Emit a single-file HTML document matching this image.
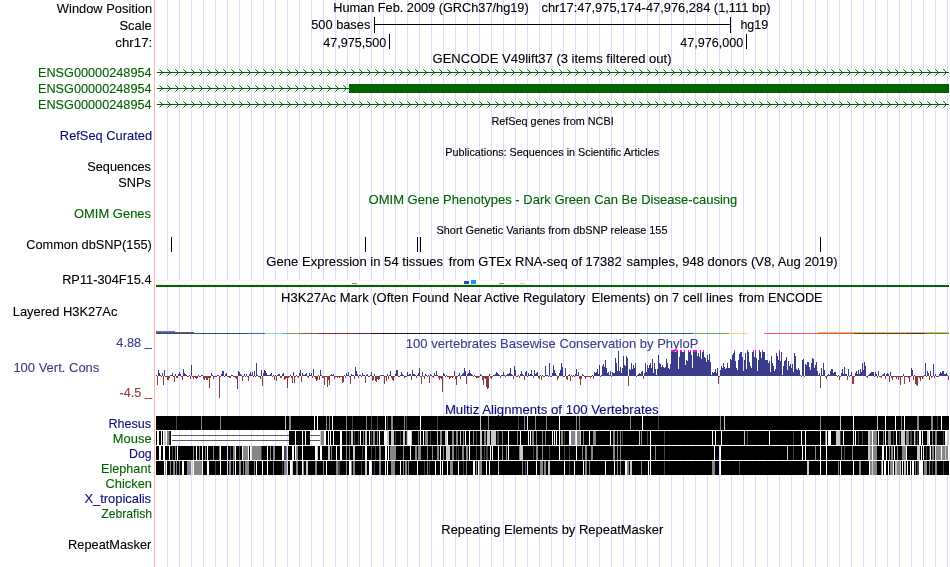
<!DOCTYPE html>
<html><head><meta charset="utf-8"><title>UCSC Genome Browser</title>
<style>html,body{margin:0;padding:0;background:#fff}body{width:950px;height:567px;overflow:hidden;font-family:"Liberation Sans", sans-serif}svg{display:block}text{stroke-width:0.12px;paint-order:stroke fill}</style>
</head><body>
<svg width="950" height="567" viewBox="0 0 950 567" font-family='"Liberation Sans", sans-serif'><g shape-rendering="crispEdges"><rect x="154" y="0" width="1" height="567" fill="#ffb4b4"/><rect x="167" y="0" width="1" height="567" fill="#dcdcff"/><rect x="179" y="0" width="1" height="567" fill="#dcdcff"/><rect x="191" y="0" width="1" height="567" fill="#dcdcff"/><rect x="203" y="0" width="1" height="567" fill="#dcdcff"/><rect x="215" y="0" width="1" height="567" fill="#dcdcff"/><rect x="227" y="0" width="1" height="567" fill="#dcdcff"/><rect x="239" y="0" width="1" height="567" fill="#dcdcff"/><rect x="251" y="0" width="1" height="567" fill="#dcdcff"/><rect x="263" y="0" width="1" height="567" fill="#dcdcff"/><rect x="275" y="0" width="1" height="567" fill="#dcdcff"/><rect x="287" y="0" width="1" height="567" fill="#dcdcff"/><rect x="299" y="0" width="1" height="567" fill="#dcdcff"/><rect x="311" y="0" width="1" height="567" fill="#dcdcff"/><rect x="323" y="0" width="1" height="567" fill="#dcdcff"/><rect x="335" y="0" width="1" height="567" fill="#dcdcff"/><rect x="347" y="0" width="1" height="567" fill="#dcdcff"/><rect x="359" y="0" width="1" height="567" fill="#dcdcff"/><rect x="371" y="0" width="1" height="567" fill="#dcdcff"/><rect x="383" y="0" width="1" height="567" fill="#dcdcff"/><rect x="395" y="0" width="1" height="567" fill="#dcdcff"/><rect x="407" y="0" width="1" height="567" fill="#dcdcff"/><rect x="419" y="0" width="1" height="567" fill="#dcdcff"/><rect x="431" y="0" width="1" height="567" fill="#dcdcff"/><rect x="443" y="0" width="1" height="567" fill="#dcdcff"/><rect x="455" y="0" width="1" height="567" fill="#dcdcff"/><rect x="467" y="0" width="1" height="567" fill="#dcdcff"/><rect x="479" y="0" width="1" height="567" fill="#dcdcff"/><rect x="491" y="0" width="1" height="567" fill="#dcdcff"/><rect x="503" y="0" width="1" height="567" fill="#dcdcff"/><rect x="515" y="0" width="1" height="567" fill="#dcdcff"/><rect x="527" y="0" width="1" height="567" fill="#dcdcff"/><rect x="539" y="0" width="1" height="567" fill="#dcdcff"/><rect x="551" y="0" width="1" height="567" fill="#dcdcff"/><rect x="563" y="0" width="1" height="567" fill="#dcdcff"/><rect x="575" y="0" width="1" height="567" fill="#dcdcff"/><rect x="587" y="0" width="1" height="567" fill="#dcdcff"/><rect x="599" y="0" width="1" height="567" fill="#dcdcff"/><rect x="611" y="0" width="1" height="567" fill="#dcdcff"/><rect x="623" y="0" width="1" height="567" fill="#dcdcff"/><rect x="635" y="0" width="1" height="567" fill="#dcdcff"/><rect x="647" y="0" width="1" height="567" fill="#dcdcff"/><rect x="659" y="0" width="1" height="567" fill="#dcdcff"/><rect x="671" y="0" width="1" height="567" fill="#dcdcff"/><rect x="683" y="0" width="1" height="567" fill="#dcdcff"/><rect x="695" y="0" width="1" height="567" fill="#dcdcff"/><rect x="707" y="0" width="1" height="567" fill="#dcdcff"/><rect x="719" y="0" width="1" height="567" fill="#dcdcff"/><rect x="731" y="0" width="1" height="567" fill="#dcdcff"/><rect x="743" y="0" width="1" height="567" fill="#dcdcff"/><rect x="755" y="0" width="1" height="567" fill="#dcdcff"/><rect x="767" y="0" width="1" height="567" fill="#dcdcff"/><rect x="779" y="0" width="1" height="567" fill="#dcdcff"/><rect x="791" y="0" width="1" height="567" fill="#dcdcff"/><rect x="803" y="0" width="1" height="567" fill="#dcdcff"/><rect x="815" y="0" width="1" height="567" fill="#dcdcff"/><rect x="827" y="0" width="1" height="567" fill="#dcdcff"/><rect x="839" y="0" width="1" height="567" fill="#dcdcff"/><rect x="851" y="0" width="1" height="567" fill="#dcdcff"/><rect x="863" y="0" width="1" height="567" fill="#dcdcff"/><rect x="875" y="0" width="1" height="567" fill="#dcdcff"/><rect x="887" y="0" width="1" height="567" fill="#dcdcff"/><rect x="899" y="0" width="1" height="567" fill="#dcdcff"/><rect x="911" y="0" width="1" height="567" fill="#dcdcff"/><rect x="923" y="0" width="1" height="567" fill="#dcdcff"/><rect x="935" y="0" width="1" height="567" fill="#dcdcff"/><rect x="947" y="0" width="1" height="567" fill="#dcdcff"/></g>
<g shape-rendering="crispEdges"><rect x="374" y="24" width="357" height="1" fill="#000"/><rect x="374" y="17" width="1" height="16" fill="#000"/><rect x="730" y="17" width="1" height="16" fill="#000"/><rect x="389" y="34" width="1" height="15" fill="#000"/><rect x="746" y="34" width="1" height="15" fill="#000"/><rect x="157" y="72" width="792" height="1" fill="#006400"/><rect x="157" y="88" width="792" height="1" fill="#006400"/><rect x="157" y="104" width="792" height="1" fill="#006400"/><rect x="349" y="84" width="600" height="9" fill="#006400"/><rect x="171" y="237" width="1" height="15" fill="#000"/><rect x="365" y="237" width="1" height="15" fill="#000"/><rect x="417" y="237" width="1" height="15" fill="#000"/><rect x="420" y="237" width="1" height="15" fill="#000"/><rect x="820" y="237" width="1" height="15" fill="#000"/><rect x="156" y="280" width="378" height="1" fill="#f3f3f3"/><rect x="156" y="281" width="378" height="3" fill="#ffffff"/><rect x="156" y="284" width="378" height="1" fill="#f1e9e9"/><rect x="156" y="285" width="793" height="2" fill="#006400"/><rect x="464" y="281" width="5" height="3" fill="#2a4ccc"/><rect x="471" y="280" width="5" height="4" fill="#1e90ff"/><rect x="352" y="283" width="5" height="1" fill="#b08050"/><rect x="499" y="283" width="5" height="1" fill="#888"/><rect x="520" y="283" width="5" height="1" fill="#f5c0b0"/><rect x="156" y="331" width="19" height="1" fill="#6a6af0"/><rect x="156" y="332" width="38" height="1" fill="#6b5a6b"/><rect x="156" y="333" width="91" height="1" fill="#2f5555"/><rect x="247" y="333" width="18" height="1" fill="#3a6ad0"/><rect x="265" y="333" width="18" height="1" fill="#70e8c8"/><rect x="283" y="333" width="17" height="1" fill="#6aaa44"/><rect x="300" y="333" width="18" height="1" fill="#8a6030"/><rect x="318" y="333" width="35" height="1" fill="#8a2a2a"/><rect x="353" y="333" width="19" height="1" fill="#6a2040"/><rect x="372" y="333" width="48" height="1" fill="#301030"/><rect x="420" y="333" width="220" height="1" fill="#1c1c28"/><rect x="640" y="333" width="53" height="1" fill="#2a5a6a"/><rect x="693" y="333" width="36" height="1" fill="#5cb850"/><rect x="729" y="333" width="18" height="1" fill="#ffd070"/><rect x="764" y="333" width="54" height="1" fill="#ff5a5a"/><rect x="818" y="333" width="36" height="1" fill="#e06050"/><rect x="854" y="333" width="53" height="1" fill="#4a4a30"/><rect x="907" y="333" width="18" height="1" fill="#2a3a4a"/><rect x="925" y="333" width="24" height="1" fill="#3a9a3a"/><rect x="818" y="332" width="131" height="1" fill="#ffb050"/><path d="M156 375h1v1h-1zM158 370h1v6h-1zM159 373h1v3h-1zM160 375h1v1h-1zM162 373h1v3h-1zM164 370h1v6h-1zM170 375h1v1h-1zM171 375h1v1h-1zM172 373h1v3h-1zM175 374h1v2h-1zM178 374h1v2h-1zM179 372h1v4h-1zM180 374h1v2h-1zM183 369h1v7h-1zM184 373h1v3h-1zM185 374h1v2h-1zM186 375h1v1h-1zM189 375h1v1h-1zM191 365h1v11h-1zM198 375h1v1h-1zM201 375h1v1h-1zM202 375h1v1h-1zM211 373h1v3h-1zM212 375h1v1h-1zM217 375h1v1h-1zM218 375h1v1h-1zM221 374h1v2h-1zM222 371h1v5h-1zM223 371h1v5h-1zM225 374h1v2h-1zM226 373h1v3h-1zM231 375h1v1h-1zM232 375h1v1h-1zM238 371h1v5h-1zM239 372h1v4h-1zM240 374h1v2h-1zM241 375h1v1h-1zM244 374h1v2h-1zM246 374h1v2h-1zM249 374h1v2h-1zM250 372h1v4h-1zM251 375h1v1h-1zM252 372h1v4h-1zM254 371h1v5h-1zM256 363h1v13h-1zM257 375h1v1h-1zM261 370h1v6h-1zM263 373h1v3h-1zM264 370h1v6h-1zM265 371h1v5h-1zM266 373h1v3h-1zM267 375h1v1h-1zM268 375h1v1h-1zM269 375h1v1h-1zM270 374h1v2h-1zM271 373h1v3h-1zM273 375h1v1h-1zM275 375h1v1h-1zM277 375h1v1h-1zM278 374h1v2h-1zM279 374h1v2h-1zM282 374h1v2h-1zM283 373h1v3h-1zM290 375h1v1h-1zM293 372h1v4h-1zM296 375h1v1h-1zM299 373h1v3h-1zM300 370h1v6h-1zM302 373h1v3h-1zM303 375h1v1h-1zM304 375h1v1h-1zM305 374h1v2h-1zM306 373h1v3h-1zM309 373h1v3h-1zM310 375h1v1h-1zM311 373h1v3h-1zM313 369h1v7h-1zM318 375h1v1h-1zM320 370h1v6h-1zM321 375h1v1h-1zM330 375h1v1h-1zM331 374h1v2h-1zM332 375h1v1h-1zM333 374h1v2h-1zM344 375h1v1h-1zM346 373h1v3h-1zM347 375h1v1h-1zM348 372h1v4h-1zM351 374h1v2h-1zM352 375h1v1h-1zM353 375h1v1h-1zM355 367h1v9h-1zM356 371h1v5h-1zM357 374h1v2h-1zM359 375h1v1h-1zM360 375h1v1h-1zM362 373h1v3h-1zM363 375h1v1h-1zM364 375h1v1h-1zM366 375h1v1h-1zM367 374h1v2h-1zM370 375h1v1h-1zM371 372h1v4h-1zM374 374h1v2h-1zM380 375h1v1h-1zM381 375h1v1h-1zM382 375h1v1h-1zM383 375h1v1h-1zM387 374h1v2h-1zM389 375h1v1h-1zM390 371h1v5h-1zM395 374h1v2h-1zM396 370h1v6h-1zM397 370h1v6h-1zM400 375h1v1h-1zM401 372h1v4h-1zM402 374h1v2h-1zM403 375h1v1h-1zM407 372h1v4h-1zM408 375h1v1h-1zM409 374h1v2h-1zM410 374h1v2h-1zM412 370h1v6h-1zM413 374h1v2h-1zM414 374h1v2h-1zM415 375h1v1h-1zM417 375h1v1h-1zM418 373h1v3h-1zM419 368h1v8h-1zM422 372h1v4h-1zM425 374h1v2h-1zM426 375h1v1h-1zM428 375h1v1h-1zM430 374h1v2h-1zM431 375h1v1h-1zM434 373h1v3h-1zM435 375h1v1h-1zM436 371h1v5h-1zM437 375h1v1h-1zM443 373h1v3h-1zM444 374h1v2h-1zM446 375h1v1h-1zM454 371h1v5h-1zM458 375h1v1h-1zM459 373h1v3h-1zM461 375h1v1h-1zM462 374h1v2h-1zM463 373h1v3h-1zM464 368h1v8h-1zM465 371h1v5h-1zM467 374h1v2h-1zM468 373h1v3h-1zM469 370h1v6h-1zM470 373h1v3h-1zM471 374h1v2h-1zM472 375h1v1h-1zM474 375h1v1h-1zM480 374h1v2h-1zM481 375h1v1h-1zM489 374h1v2h-1zM493 375h1v1h-1zM494 375h1v1h-1zM495 374h1v2h-1zM496 372h1v4h-1zM497 373h1v3h-1zM498 374h1v2h-1zM499 375h1v1h-1zM501 375h1v1h-1zM502 375h1v1h-1zM503 372h1v4h-1zM504 375h1v1h-1zM506 375h1v1h-1zM507 374h1v2h-1zM508 374h1v2h-1zM509 373h1v3h-1zM510 368h1v8h-1zM511 374h1v2h-1zM512 375h1v1h-1zM514 366h1v10h-1zM515 370h1v6h-1zM518 375h1v1h-1zM520 374h1v2h-1zM521 371h1v5h-1zM522 374h1v2h-1zM523 375h1v1h-1zM525 372h1v4h-1zM526 371h1v5h-1zM528 373h1v3h-1zM529 375h1v1h-1zM530 374h1v2h-1zM531 370h1v6h-1zM532 375h1v1h-1zM534 370h1v6h-1zM535 374h1v2h-1zM536 373h1v3h-1zM537 372h1v4h-1zM540 375h1v1h-1zM542 375h1v1h-1zM545 366h1v10h-1zM546 375h1v1h-1zM547 375h1v1h-1zM549 363h1v13h-1zM552 373h1v3h-1zM553 365h1v11h-1zM554 370h1v6h-1zM555 373h1v3h-1zM556 375h1v1h-1zM559 373h1v3h-1zM560 370h1v6h-1zM561 363h1v13h-1zM562 367h1v9h-1zM565 368h1v8h-1zM568 375h1v1h-1zM569 374h1v2h-1zM571 375h1v1h-1zM573 375h1v1h-1zM575 374h1v2h-1zM576 369h1v7h-1zM577 375h1v1h-1zM578 372h1v4h-1zM582 374h1v2h-1zM583 375h1v1h-1zM592 375h1v1h-1zM594 372h1v4h-1zM595 373h1v3h-1zM596 372h1v4h-1zM597 369h1v7h-1zM598 374h1v2h-1zM599 365h1v11h-1zM601 375h1v1h-1zM602 366h1v10h-1zM603 364h1v12h-1zM604 367h1v9h-1zM605 360h1v16h-1zM606 368h1v8h-1zM607 373h1v3h-1zM608 372h1v4h-1zM609 375h1v1h-1zM610 371h1v5h-1zM612 372h1v4h-1zM613 373h1v3h-1zM614 373h1v3h-1zM615 358h1v18h-1zM616 363h1v13h-1zM617 371h1v5h-1zM618 351h1v25h-1zM619 371h1v5h-1zM620 367h1v9h-1zM621 373h1v3h-1zM622 368h1v8h-1zM623 356h1v20h-1zM624 365h1v11h-1zM625 366h1v10h-1zM626 356h1v20h-1zM627 358h1v18h-1zM629 369h1v7h-1zM630 370h1v6h-1zM631 363h1v13h-1zM632 369h1v7h-1zM633 365h1v11h-1zM634 368h1v8h-1zM635 363h1v13h-1zM637 375h1v1h-1zM638 374h1v2h-1zM639 373h1v3h-1zM640 374h1v2h-1zM641 372h1v4h-1zM642 371h1v5h-1zM644 373h1v3h-1zM645 363h1v13h-1zM646 372h1v4h-1zM647 365h1v11h-1zM648 368h1v8h-1zM649 365h1v11h-1zM650 363h1v13h-1zM651 368h1v8h-1zM652 359h1v17h-1zM653 373h1v3h-1zM654 363h1v13h-1zM655 369h1v7h-1zM656 375h1v1h-1zM657 369h1v7h-1zM658 355h1v21h-1zM659 363h1v13h-1zM660 364h1v12h-1zM661 367h1v9h-1zM662 365h1v11h-1zM663 367h1v9h-1zM664 368h1v8h-1zM665 367h1v9h-1zM666 359h1v17h-1zM667 363h1v13h-1zM668 368h1v8h-1zM669 369h1v7h-1zM670 364h1v12h-1zM671 352h1v24h-1zM672 352h1v24h-1zM673 352h1v24h-1zM674 352h1v24h-1zM675 352h1v24h-1zM676 352h1v24h-1zM677 352h1v24h-1zM678 369h1v7h-1zM679 357h1v19h-1zM680 352h1v24h-1zM681 352h1v24h-1zM682 352h1v24h-1zM683 352h1v24h-1zM684 352h1v24h-1zM685 365h1v11h-1zM686 360h1v16h-1zM687 361h1v15h-1zM688 352h1v24h-1zM689 352h1v24h-1zM690 352h1v24h-1zM691 355h1v21h-1zM692 368h1v8h-1zM693 352h1v24h-1zM694 352h1v24h-1zM695 352h1v24h-1zM696 352h1v24h-1zM697 356h1v20h-1zM698 353h1v23h-1zM699 357h1v19h-1zM700 352h1v24h-1zM701 359h1v17h-1zM702 352h1v24h-1zM703 352h1v24h-1zM704 357h1v19h-1zM705 358h1v18h-1zM706 362h1v14h-1zM707 355h1v21h-1zM708 360h1v16h-1zM709 354h1v22h-1zM710 362h1v14h-1zM711 375h1v1h-1zM712 372h1v4h-1zM713 373h1v3h-1zM714 372h1v4h-1zM715 369h1v7h-1zM716 373h1v3h-1zM717 368h1v8h-1zM720 370h1v6h-1zM721 366h1v10h-1zM722 368h1v8h-1zM723 363h1v13h-1zM724 367h1v9h-1zM725 369h1v7h-1zM726 368h1v8h-1zM727 363h1v13h-1zM728 368h1v8h-1zM729 368h1v8h-1zM730 359h1v17h-1zM731 360h1v16h-1zM732 355h1v21h-1zM733 353h1v23h-1zM734 352h1v24h-1zM735 361h1v15h-1zM736 368h1v8h-1zM737 370h1v6h-1zM738 360h1v16h-1zM739 354h1v22h-1zM740 352h1v24h-1zM741 352h1v24h-1zM742 357h1v19h-1zM743 371h1v5h-1zM744 360h1v16h-1zM745 353h1v23h-1zM746 369h1v7h-1zM747 350h1v26h-1zM748 352h1v24h-1zM749 362h1v14h-1zM750 366h1v10h-1zM751 368h1v8h-1zM752 352h1v24h-1zM753 352h1v24h-1zM754 357h1v19h-1zM755 352h1v24h-1zM756 358h1v18h-1zM757 371h1v5h-1zM758 360h1v16h-1zM759 350h1v26h-1zM760 352h1v24h-1zM761 358h1v18h-1zM762 352h1v24h-1zM763 352h1v24h-1zM764 352h1v24h-1zM765 360h1v16h-1zM766 360h1v16h-1zM767 360h1v16h-1zM768 363h1v13h-1zM769 361h1v15h-1zM770 372h1v4h-1zM771 356h1v20h-1zM772 363h1v13h-1zM773 366h1v10h-1zM774 371h1v5h-1zM775 369h1v7h-1zM776 353h1v23h-1zM777 356h1v20h-1zM778 360h1v16h-1zM779 352h1v24h-1zM780 361h1v15h-1zM781 352h1v24h-1zM782 375h1v1h-1zM783 366h1v10h-1zM784 361h1v15h-1zM785 360h1v16h-1zM786 357h1v19h-1zM787 370h1v6h-1zM788 361h1v15h-1zM789 366h1v10h-1zM790 364h1v12h-1zM791 368h1v8h-1zM792 364h1v12h-1zM793 372h1v4h-1zM794 353h1v23h-1zM795 356h1v20h-1zM796 369h1v7h-1zM797 370h1v6h-1zM798 368h1v8h-1zM799 370h1v6h-1zM800 375h1v1h-1zM802 360h1v16h-1zM803 359h1v17h-1zM805 364h1v12h-1zM806 365h1v11h-1zM807 362h1v14h-1zM808 362h1v14h-1zM809 367h1v9h-1zM810 370h1v6h-1zM811 363h1v13h-1zM812 358h1v18h-1zM813 359h1v17h-1zM814 368h1v8h-1zM815 365h1v11h-1zM816 362h1v14h-1zM817 371h1v5h-1zM818 375h1v1h-1zM819 373h1v3h-1zM821 368h1v8h-1zM822 375h1v1h-1zM823 363h1v13h-1zM824 370h1v6h-1zM827 375h1v1h-1zM828 374h1v2h-1zM829 375h1v1h-1zM830 371h1v5h-1zM831 369h1v7h-1zM832 369h1v7h-1zM833 373h1v3h-1zM834 372h1v4h-1zM835 372h1v4h-1zM836 375h1v1h-1zM838 375h1v1h-1zM841 373h1v3h-1zM842 369h1v7h-1zM843 374h1v2h-1zM844 367h1v9h-1zM845 374h1v2h-1zM846 374h1v2h-1zM848 369h1v7h-1zM850 375h1v1h-1zM851 372h1v4h-1zM855 373h1v3h-1zM856 371h1v5h-1zM857 374h1v2h-1zM858 370h1v6h-1zM859 374h1v2h-1zM860 369h1v7h-1zM861 372h1v4h-1zM862 363h1v13h-1zM863 370h1v6h-1zM864 362h1v14h-1zM865 366h1v10h-1zM868 375h1v1h-1zM869 374h1v2h-1zM870 373h1v3h-1zM871 372h1v4h-1zM872 372h1v4h-1zM873 372h1v4h-1zM875 372h1v4h-1zM876 374h1v2h-1zM878 371h1v5h-1zM882 375h1v1h-1zM883 374h1v2h-1zM884 373h1v3h-1zM886 374h1v2h-1zM887 373h1v3h-1zM888 374h1v2h-1zM890 372h1v4h-1zM903 374h1v2h-1zM911 368h1v8h-1zM912 370h1v6h-1zM914 375h1v1h-1zM924 375h1v1h-1zM925 363h1v13h-1zM927 371h1v5h-1zM928 373h1v3h-1zM930 371h1v5h-1zM933 364h1v12h-1zM935 374h1v2h-1zM939 374h1v2h-1zM940 372h1v4h-1zM941 373h1v3h-1zM942 371h1v5h-1zM943 371h1v5h-1zM944 374h1v2h-1zM945 374h1v2h-1zM946 373h1v3h-1zM947 375h1v1h-1z" fill="#3c3c8c"/><path d="M157 376h1v9h-1zM161 376h1v1h-1zM163 376h1v9h-1zM165 376h1v1h-1zM166 376h1v1h-1zM167 376h1v4h-1zM168 376h1v4h-1zM169 376h1v2h-1zM173 376h1v1h-1zM174 376h1v6h-1zM176 376h1v2h-1zM177 376h1v2h-1zM181 376h1v1h-1zM182 376h1v4h-1zM187 376h1v1h-1zM188 376h1v1h-1zM190 376h1v3h-1zM192 376h1v1h-1zM193 376h1v3h-1zM194 376h1v1h-1zM195 376h1v2h-1zM196 376h1v3h-1zM197 376h1v2h-1zM199 376h1v1h-1zM200 376h1v1h-1zM203 376h1v3h-1zM204 376h1v4h-1zM205 376h1v2h-1zM206 376h1v4h-1zM207 376h1v4h-1zM208 376h1v2h-1zM209 376h1v12h-1zM210 376h1v2h-1zM213 376h1v3h-1zM214 376h1v1h-1zM215 376h1v1h-1zM216 376h1v1h-1zM219 376h1v22h-1zM220 376h1v1h-1zM224 376h1v1h-1zM227 376h1v1h-1zM228 376h1v1h-1zM229 376h1v2h-1zM230 376h1v2h-1zM233 376h1v1h-1zM234 376h1v1h-1zM235 376h1v2h-1zM236 376h1v3h-1zM237 376h1v13h-1zM242 376h1v5h-1zM243 376h1v1h-1zM245 376h1v1h-1zM247 376h1v1h-1zM248 376h1v5h-1zM253 376h1v1h-1zM255 376h1v1h-1zM258 376h1v1h-1zM259 376h1v1h-1zM260 376h1v3h-1zM262 376h1v10h-1zM272 376h1v1h-1zM274 376h1v4h-1zM276 376h1v5h-1zM280 376h1v2h-1zM281 376h1v2h-1zM284 376h1v4h-1zM285 376h1v3h-1zM286 376h1v2h-1zM287 376h1v12h-1zM288 376h1v2h-1zM289 376h1v1h-1zM291 376h1v2h-1zM292 376h1v7h-1zM294 376h1v7h-1zM295 376h1v1h-1zM297 376h1v1h-1zM298 376h1v2h-1zM301 376h1v6h-1zM307 376h1v1h-1zM308 376h1v2h-1zM312 376h1v2h-1zM314 376h1v1h-1zM315 376h1v3h-1zM316 376h1v5h-1zM317 376h1v4h-1zM319 376h1v4h-1zM322 376h1v2h-1zM323 376h1v2h-1zM324 376h1v9h-1zM325 376h1v1h-1zM326 376h1v1h-1zM327 376h1v11h-1zM328 376h1v4h-1zM329 376h1v9h-1zM334 376h1v3h-1zM335 376h1v1h-1zM336 376h1v1h-1zM337 376h1v2h-1zM338 376h1v1h-1zM339 376h1v2h-1zM340 376h1v1h-1zM341 376h1v1h-1zM342 376h1v7h-1zM343 376h1v6h-1zM345 376h1v2h-1zM349 376h1v1h-1zM350 376h1v8h-1zM354 376h1v3h-1zM358 376h1v2h-1zM361 376h1v1h-1zM365 376h1v7h-1zM368 376h1v1h-1zM369 376h1v1h-1zM372 376h1v5h-1zM373 376h1v4h-1zM375 376h1v5h-1zM376 376h1v6h-1zM377 376h1v3h-1zM378 376h1v4h-1zM379 376h1v3h-1zM384 376h1v8h-1zM385 376h1v1h-1zM386 376h1v5h-1zM388 376h1v3h-1zM391 376h1v2h-1zM392 376h1v4h-1zM393 376h1v5h-1zM394 376h1v1h-1zM398 376h1v1h-1zM399 376h1v1h-1zM404 376h1v2h-1zM405 376h1v1h-1zM406 376h1v1h-1zM411 376h1v4h-1zM416 376h1v2h-1zM420 376h1v1h-1zM421 376h1v8h-1zM423 376h1v1h-1zM424 376h1v3h-1zM427 376h1v1h-1zM429 376h1v7h-1zM432 376h1v1h-1zM433 376h1v2h-1zM438 376h1v2h-1zM439 376h1v4h-1zM440 376h1v2h-1zM441 376h1v3h-1zM442 376h1v16h-1zM445 376h1v1h-1zM447 376h1v1h-1zM448 376h1v1h-1zM449 376h1v3h-1zM450 376h1v2h-1zM451 376h1v1h-1zM452 376h1v2h-1zM453 376h1v1h-1zM455 376h1v3h-1zM456 376h1v9h-1zM457 376h1v1h-1zM460 376h1v3h-1zM466 376h1v8h-1zM473 376h1v1h-1zM475 376h1v1h-1zM476 376h1v2h-1zM477 376h1v2h-1zM478 376h1v2h-1zM479 376h1v1h-1zM482 376h1v4h-1zM483 376h1v9h-1zM484 376h1v2h-1zM485 376h1v3h-1zM486 376h1v11h-1zM487 376h1v13h-1zM488 376h1v12h-1zM490 376h1v2h-1zM491 376h1v3h-1zM492 376h1v1h-1zM500 376h1v2h-1zM505 376h1v1h-1zM513 376h1v3h-1zM516 376h1v1h-1zM517 376h1v1h-1zM519 376h1v2h-1zM524 376h1v4h-1zM527 376h1v1h-1zM533 376h1v2h-1zM538 376h1v2h-1zM539 376h1v3h-1zM541 376h1v4h-1zM543 376h1v1h-1zM544 376h1v1h-1zM548 376h1v1h-1zM550 376h1v1h-1zM551 376h1v1h-1zM557 376h1v4h-1zM558 376h1v2h-1zM563 376h1v1h-1zM564 376h1v1h-1zM566 376h1v3h-1zM567 376h1v4h-1zM570 376h1v5h-1zM572 376h1v1h-1zM574 376h1v1h-1zM579 376h1v3h-1zM580 376h1v9h-1zM581 376h1v3h-1zM584 376h1v1h-1zM585 376h1v3h-1zM586 376h1v1h-1zM587 376h1v1h-1zM588 376h1v1h-1zM589 376h1v1h-1zM590 376h1v2h-1zM591 376h1v1h-1zM593 376h1v3h-1zM600 376h1v1h-1zM611 376h1v1h-1zM628 376h1v10h-1zM636 376h1v1h-1zM643 376h1v3h-1zM718 376h1v8h-1zM719 376h1v1h-1zM801 376h1v1h-1zM804 376h1v1h-1zM820 376h1v12h-1zM825 376h1v1h-1zM826 376h1v3h-1zM837 376h1v1h-1zM839 376h1v4h-1zM840 376h1v1h-1zM847 376h1v4h-1zM849 376h1v1h-1zM852 376h1v8h-1zM853 376h1v8h-1zM854 376h1v1h-1zM866 376h1v1h-1zM867 376h1v2h-1zM874 376h1v1h-1zM877 376h1v2h-1zM879 376h1v1h-1zM880 376h1v1h-1zM881 376h1v2h-1zM885 376h1v3h-1zM889 376h1v6h-1zM891 376h1v2h-1zM892 376h1v4h-1zM893 376h1v1h-1zM894 376h1v1h-1zM895 376h1v1h-1zM896 376h1v3h-1zM897 376h1v1h-1zM898 376h1v4h-1zM899 376h1v1h-1zM900 376h1v9h-1zM901 376h1v1h-1zM902 376h1v1h-1zM904 376h1v8h-1zM905 376h1v1h-1zM906 376h1v1h-1zM907 376h1v1h-1zM908 376h1v2h-1zM909 376h1v6h-1zM910 376h1v1h-1zM913 376h1v4h-1zM915 376h1v8h-1zM916 376h1v9h-1zM917 376h1v10h-1zM918 376h1v1h-1zM919 376h1v2h-1zM920 376h1v5h-1zM921 376h1v1h-1zM922 376h1v3h-1zM923 376h1v1h-1zM926 376h1v1h-1zM929 376h1v4h-1zM931 376h1v2h-1zM932 376h1v1h-1zM934 376h1v2h-1zM936 376h1v1h-1zM937 376h1v1h-1zM938 376h1v1h-1zM948 376h1v4h-1z" fill="#8c3c3c"/><path d="M671 350h1v2h-1zM672 350h1v2h-1zM673 350h1v2h-1zM674 350h1v2h-1zM676 350h1v2h-1zM677 350h1v2h-1zM680 350h1v2h-1zM681 350h1v2h-1zM684 350h1v2h-1zM688 350h1v2h-1zM690 350h1v2h-1zM693 350h1v2h-1zM694 350h1v2h-1zM695 350h1v2h-1zM696 350h1v2h-1zM700 350h1v2h-1zM703 350h1v2h-1zM734 350h1v2h-1zM753 350h1v2h-1zM755 350h1v2h-1zM762 350h1v2h-1zM779 350h1v2h-1z" fill="#ff00ff"/><rect x="172" y="435" width="117" height="1" fill="#5a5a5a"/><rect x="172" y="440" width="117" height="1" fill="#5a5a5a"/><rect x="310" y="435" width="10" height="1" fill="#5a5a5a"/><rect x="310" y="440" width="10" height="1" fill="#5a5a5a"/><path d="M156 416h20v14h-20zM177 416h24v14h-24zM202 416h18v14h-18zM221 416h64v14h-64zM286 416h3v14h-3zM291 416h23v14h-23zM315 416h2v14h-2zM318 416h8v14h-8zM327 416h2v14h-2zM330 416h2v14h-2zM333 416h13v14h-13zM347 416h5v14h-5zM353 416h13v14h-13zM367 416h4v14h-4zM372 416h5v14h-5zM378 416h7v14h-7zM386 416h1v14h-1zM388 416h3v14h-3zM393 416h11v14h-11zM405 416h1v14h-1zM407 416h13v14h-13zM421 416h16v14h-16zM438 416h42v14h-42zM481 416h7v14h-7zM489 416h29v14h-29zM519 416h5v14h-5zM525 416h2v14h-2zM528 416h7v14h-7zM536 416h10v14h-10zM547 416h12v14h-12zM560 416h16v14h-16zM577 416h2v14h-2zM580 416h50v14h-50zM631 416h11v14h-11zM643 416h15v14h-15zM659 416h61v14h-61zM721 416h3v14h-3zM725 416h95v14h-95zM821 416h19v14h-19zM841 416h12v14h-12zM854 416h23v14h-23zM878 416h7v14h-7zM886 416h9v14h-9zM896 416h5v14h-5zM902 416h2v14h-2zM905 416h12v14h-12zM919 416h12v14h-12zM933 416h4v14h-4zM938 416h3v14h-3zM942 416h7v14h-7zM156 431h1v14h-1zM159 431h2v14h-2zM162 431h1v14h-1zM170 431h1v14h-1zM289 431h6v14h-6zM296 431h6v14h-6zM303 431h2v14h-2zM306 431h4v14h-4zM326 431h2v14h-2zM329 431h1v14h-1zM331 431h2v14h-2zM334 431h6v14h-6zM342 431h4v14h-4zM347 431h2v14h-2zM350 431h1v14h-1zM353 431h1v14h-1zM355 431h3v14h-3zM359 431h1v14h-1zM361 431h2v14h-2zM364 431h1v14h-1zM367 431h2v14h-2zM370 431h1v14h-1zM372 431h1v14h-1zM375 431h2v14h-2zM378 431h1v14h-1zM380 431h4v14h-4zM389 431h2v14h-2zM394 431h1v14h-1zM396 431h4v14h-4zM401 431h2v14h-2zM405 431h1v14h-1zM412 431h6v14h-6zM419 431h1v14h-1zM421 431h2v14h-2zM424 431h1v14h-1zM428 431h2v14h-2zM431 431h6v14h-6zM438 431h2v14h-2zM442 431h3v14h-3zM448 431h4v14h-4zM454 431h2v14h-2zM458 431h2v14h-2zM461 431h2v14h-2zM464 431h1v14h-1zM466 431h3v14h-3zM470 431h3v14h-3zM474 431h2v14h-2zM477 431h3v14h-3zM482 431h2v14h-2zM486 431h1v14h-1zM490 431h1v14h-1zM496 431h1v14h-1zM499 431h3v14h-3zM503 431h5v14h-5zM509 431h8v14h-8zM518 431h2v14h-2zM521 431h7v14h-7zM529 431h1v14h-1zM531 431h1v14h-1zM534 431h2v14h-2zM537 431h5v14h-5zM543 431h2v14h-2zM546 431h6v14h-6zM553 431h1v14h-1zM555 431h1v14h-1zM557 431h2v14h-2zM560 431h1v14h-1zM563 431h1v14h-1zM565 431h4v14h-4zM581 431h2v14h-2zM584 431h5v14h-5zM590 431h3v14h-3zM596 431h14v14h-14zM611 431h2v14h-2zM615 431h2v14h-2zM618 431h2v14h-2zM621 431h1v14h-1zM623 431h16v14h-16zM640 431h1v14h-1zM642 431h5v14h-5zM648 431h2v14h-2zM651 431h13v14h-13zM665 431h47v14h-47zM713 431h2v14h-2zM716 431h5v14h-5zM722 431h22v14h-22zM745 431h2v14h-2zM748 431h21v14h-21zM770 431h23v14h-23zM794 431h7v14h-7zM802 431h3v14h-3zM806 431h14v14h-14zM821 431h4v14h-4zM827 431h1v14h-1zM831 431h5v14h-5zM841 431h2v14h-2zM844 431h9v14h-9zM854 431h1v14h-1zM856 431h2v14h-2zM859 431h3v14h-3zM863 431h5v14h-5zM877 431h1v14h-1zM879 431h4v14h-4zM884 431h1v14h-1zM886 431h2v14h-2zM891 431h2v14h-2zM894 431h2v14h-2zM897 431h2v14h-2zM900 431h1v14h-1zM905 431h1v14h-1zM909 431h1v14h-1zM912 431h2v14h-2zM916 431h1v14h-1zM918 431h1v14h-1zM921 431h1v14h-1zM923 431h4v14h-4zM930 431h2v14h-2zM933 431h2v14h-2zM937 431h6v14h-6zM944 431h1v14h-1zM156 446h3v14h-3zM161 446h2v14h-2zM165 446h4v14h-4zM170 446h2v14h-2zM173 446h2v14h-2zM176 446h1v14h-1zM178 446h15v14h-15zM194 446h2v14h-2zM197 446h2v14h-2zM200 446h2v14h-2zM203 446h2v14h-2zM206 446h1v14h-1zM208 446h5v14h-5zM214 446h5v14h-5zM221 446h6v14h-6zM228 446h2v14h-2zM231 446h2v14h-2zM236 446h3v14h-3zM240 446h2v14h-2zM249 446h1v14h-1zM262 446h5v14h-5zM268 446h2v14h-2zM271 446h2v14h-2zM275 446h7v14h-7zM288 446h4v14h-4zM294 446h1v14h-1zM298 446h4v14h-4zM303 446h12v14h-12zM318 446h2v14h-2zM322 446h6v14h-6zM330 446h1v14h-1zM332 446h4v14h-4zM337 446h3v14h-3zM342 446h4v14h-4zM347 446h2v14h-2zM350 446h3v14h-3zM355 446h7v14h-7zM363 446h2v14h-2zM367 446h4v14h-4zM372 446h3v14h-3zM376 446h3v14h-3zM381 446h4v14h-4zM387 446h1v14h-1zM389 446h1v14h-1zM396 446h7v14h-7zM404 446h6v14h-6zM411 446h4v14h-4zM417 446h1v14h-1zM421 446h6v14h-6zM428 446h4v14h-4zM433 446h4v14h-4zM439 446h1v14h-1zM441 446h2v14h-2zM444 446h2v14h-2zM450 446h2v14h-2zM454 446h2v14h-2zM457 446h1v14h-1zM459 446h3v14h-3zM464 446h2v14h-2zM468 446h1v14h-1zM470 446h6v14h-6zM477 446h3v14h-3zM482 446h2v14h-2zM485 446h1v14h-1zM488 446h2v14h-2zM491 446h1v14h-1zM493 446h5v14h-5zM499 446h3v14h-3zM503 446h3v14h-3zM507 446h1v14h-1zM509 446h10v14h-10zM523 446h10v14h-10zM534 446h2v14h-2zM538 446h4v14h-4zM543 446h6v14h-6zM550 446h9v14h-9zM560 446h4v14h-4zM565 446h4v14h-4zM570 446h6v14h-6zM577 446h5v14h-5zM583 446h2v14h-2zM587 446h4v14h-4zM593 446h20v14h-20zM615 446h2v14h-2zM618 446h2v14h-2zM621 446h29v14h-29zM651 446h4v14h-4zM656 446h8v14h-8zM665 446h49v14h-49zM715 446h4v14h-4zM721 446h66v14h-66zM788 446h5v14h-5zM794 446h8v14h-8zM803 446h2v14h-2zM806 446h9v14h-9zM816 446h4v14h-4zM821 446h5v14h-5zM827 446h14v14h-14zM842 446h2v14h-2zM845 446h7v14h-7zM853 446h15v14h-15zM877 446h5v14h-5zM884 446h2v14h-2zM887 446h2v14h-2zM890 446h1v14h-1zM893 446h1v14h-1zM895 446h2v14h-2zM898 446h4v14h-4zM907 446h10v14h-10zM920 446h1v14h-1zM922 446h1v14h-1zM924 446h2v14h-2zM927 446h2v14h-2zM931 446h1v14h-1zM934 446h1v14h-1zM156 461h8v14h-8zM167 461h3v14h-3zM171 461h2v14h-2zM175 461h1v14h-1zM177 461h2v14h-2zM180 461h2v14h-2zM184 461h3v14h-3zM203 461h4v14h-4zM209 461h6v14h-6zM216 461h4v14h-4zM221 461h6v14h-6zM228 461h1v14h-1zM231 461h2v14h-2zM234 461h1v14h-1zM236 461h3v14h-3zM241 461h2v14h-2zM244 461h1v14h-1zM249 461h5v14h-5zM255 461h1v14h-1zM257 461h5v14h-5zM263 461h4v14h-4zM268 461h5v14h-5zM274 461h8v14h-8zM283 461h1v14h-1zM288 461h2v14h-2zM293 461h3v14h-3zM298 461h4v14h-4zM304 461h2v14h-2zM308 461h7v14h-7zM317 461h6v14h-6zM324 461h2v14h-2zM327 461h9v14h-9zM340 461h6v14h-6zM347 461h2v14h-2zM352 461h1v14h-1zM355 461h6v14h-6zM362 461h3v14h-3zM367 461h2v14h-2zM372 461h2v14h-2zM375 461h4v14h-4zM381 461h4v14h-4zM386 461h1v14h-1zM388 461h3v14h-3zM395 461h5v14h-5zM401 461h2v14h-2zM404 461h1v14h-1zM407 461h1v14h-1zM409 461h8v14h-8zM418 461h6v14h-6zM425 461h2v14h-2zM428 461h1v14h-1zM430 461h5v14h-5zM436 461h4v14h-4zM441 461h1v14h-1zM443 461h4v14h-4zM448 461h2v14h-2zM453 461h5v14h-5zM459 461h4v14h-4zM464 461h2v14h-2zM467 461h6v14h-6zM475 461h1v14h-1zM477 461h1v14h-1zM482 461h4v14h-4zM487 461h2v14h-2zM490 461h8v14h-8zM499 461h23v14h-23zM523 461h2v14h-2zM526 461h1v14h-1zM528 461h8v14h-8zM537 461h3v14h-3zM543 461h1v14h-1zM546 461h2v14h-2zM550 461h14v14h-14zM565 461h4v14h-4zM570 461h4v14h-4zM575 461h8v14h-8zM584 461h1v14h-1zM587 461h2v14h-2zM590 461h15v14h-15zM606 461h8v14h-8zM615 461h2v14h-2zM618 461h2v14h-2zM621 461h4v14h-4zM629 461h1v14h-1zM632 461h9v14h-9zM642 461h6v14h-6zM649 461h1v14h-1zM651 461h13v14h-13zM665 461h47v14h-47zM715 461h4v14h-4zM721 461h18v14h-18zM740 461h67v14h-67zM809 461h11v14h-11zM821 461h5v14h-5zM827 461h11v14h-11zM839 461h1v14h-1zM841 461h12v14h-12zM854 461h5v14h-5zM861 461h8v14h-8zM877 461h4v14h-4zM883 461h1v14h-1zM886 461h2v14h-2zM889 461h1v14h-1zM894 461h1v14h-1zM901 461h1v14h-1zM903 461h1v14h-1zM906 461h1v14h-1zM908 461h2v14h-2zM911 461h1v14h-1zM914 461h1v14h-1zM916 461h1v14h-1zM923 461h1v14h-1zM927 461h2v14h-2zM930 461h2v14h-2zM933 461h2v14h-2zM937 461h6v14h-6zM944 461h5v14h-5z" fill="#000000"/><path d="M176 416h1v14h-1zM352 416h1v14h-1zM371 416h1v14h-1zM377 416h1v14h-1zM387 416h1v14h-1zM406 416h1v14h-1zM437 416h1v14h-1zM518 416h1v14h-1zM658 416h1v14h-1zM937 416h1v14h-1zM169 431h1v14h-1zM349 431h1v14h-1zM354 431h1v14h-1zM358 431h1v14h-1zM371 431h1v14h-1zM395 431h1v14h-1zM400 431h1v14h-1zM406 431h1v14h-1zM430 431h1v14h-1zM476 431h1v14h-1zM497 431h2v14h-2zM564 431h1v14h-1zM622 431h1v14h-1zM647 431h1v14h-1zM664 431h1v14h-1zM747 431h1v14h-1zM793 431h1v14h-1zM840 431h1v14h-1zM858 431h1v14h-1zM862 431h1v14h-1zM893 431h1v14h-1zM899 431h1v14h-1zM910 431h2v14h-2zM915 431h1v14h-1zM917 431h1v14h-1zM943 431h1v14h-1zM172 446h1v14h-1zM230 446h1v14h-1zM239 446h1v14h-1zM261 446h1v14h-1zM284 446h2v14h-2zM362 446h1v14h-1zM371 446h1v14h-1zM375 446h1v14h-1zM456 446h1v14h-1zM458 446h1v14h-1zM476 446h1v14h-1zM484 446h1v14h-1zM486 446h2v14h-2zM533 446h1v14h-1zM549 446h1v14h-1zM564 446h1v14h-1zM569 446h1v14h-1zM664 446h1v14h-1zM793 446h1v14h-1zM844 446h1v14h-1zM926 446h1v14h-1zM929 446h1v14h-1zM215 461h1v14h-1zM282 461h1v14h-1zM338 461h2v14h-2zM361 461h1v14h-1zM374 461h1v14h-1zM424 461h1v14h-1zM429 461h1v14h-1zM463 461h1v14h-1zM525 461h1v14h-1zM569 461h1v14h-1zM664 461h1v14h-1zM739 461h1v14h-1zM917 461h2v14h-2zM932 461h1v14h-1zM943 461h1v14h-1z" fill="#444444"/><path d="M201 416h1v14h-1zM220 416h1v14h-1zM289 416h2v14h-2zM326 416h1v14h-1zM329 416h1v14h-1zM346 416h1v14h-1zM366 416h1v14h-1zM391 416h2v14h-2zM404 416h1v14h-1zM488 416h1v14h-1zM524 416h1v14h-1zM535 416h1v14h-1zM546 416h1v14h-1zM576 416h1v14h-1zM579 416h1v14h-1zM630 416h1v14h-1zM720 416h1v14h-1zM820 416h1v14h-1zM901 416h1v14h-1zM917 416h2v14h-2zM931 416h2v14h-2zM167 431h2v14h-2zM321 431h3v14h-3zM346 431h1v14h-1zM363 431h1v14h-1zM373 431h2v14h-2zM377 431h1v14h-1zM418 431h1v14h-1zM425 431h3v14h-3zM440 431h2v14h-2zM452 431h2v14h-2zM456 431h2v14h-2zM463 431h1v14h-1zM473 431h1v14h-1zM484 431h2v14h-2zM502 431h1v14h-1zM517 431h1v14h-1zM532 431h2v14h-2zM536 431h1v14h-1zM542 431h1v14h-1zM545 431h1v14h-1zM561 431h2v14h-2zM571 431h4v14h-4zM577 431h3v14h-3zM583 431h1v14h-1zM593 431h3v14h-3zM613 431h2v14h-2zM617 431h1v14h-1zM620 431h1v14h-1zM641 431h1v14h-1zM825 431h1v14h-1zM870 431h2v14h-2zM873 431h4v14h-4zM883 431h1v14h-1zM888 431h3v14h-3zM906 431h3v14h-3zM932 431h1v14h-1zM935 431h2v14h-2zM175 446h1v14h-1zM193 446h1v14h-1zM199 446h1v14h-1zM205 446h1v14h-1zM213 446h1v14h-1zM219 446h1v14h-1zM233 446h2v14h-2zM243 446h5v14h-5zM252 446h9v14h-9zM270 446h1v14h-1zM273 446h2v14h-2zM286 446h1v14h-1zM296 446h2v14h-2zM331 446h1v14h-1zM346 446h1v14h-1zM349 446h1v14h-1zM379 446h2v14h-2zM390 446h6v14h-6zM403 446h1v14h-1zM415 446h2v14h-2zM418 446h3v14h-3zM427 446h1v14h-1zM432 446h1v14h-1zM437 446h2v14h-2zM443 446h1v14h-1zM452 446h2v14h-2zM462 446h2v14h-2zM466 446h2v14h-2zM480 446h2v14h-2zM502 446h1v14h-1zM506 446h1v14h-1zM519 446h1v14h-1zM536 446h2v14h-2zM542 446h1v14h-1zM582 446h1v14h-1zM585 446h2v14h-2zM591 446h2v14h-2zM613 446h2v14h-2zM617 446h1v14h-1zM620 446h1v14h-1zM655 446h1v14h-1zM815 446h1v14h-1zM841 446h1v14h-1zM852 446h1v14h-1zM870 446h2v14h-2zM873 446h4v14h-4zM889 446h1v14h-1zM891 446h2v14h-2zM897 446h1v14h-1zM902 446h4v14h-4zM932 446h2v14h-2zM936 446h5v14h-5zM942 446h3v14h-3zM946 446h2v14h-2zM165 461h1v14h-1zM170 461h1v14h-1zM173 461h2v14h-2zM176 461h1v14h-1zM179 461h1v14h-1zM187 461h4v14h-4zM194 461h8v14h-8zM229 461h2v14h-2zM233 461h1v14h-1zM239 461h2v14h-2zM243 461h1v14h-1zM245 461h4v14h-4zM254 461h1v14h-1zM273 461h1v14h-1zM284 461h3v14h-3zM296 461h2v14h-2zM303 461h1v14h-1zM315 461h2v14h-2zM323 461h1v14h-1zM336 461h2v14h-2zM346 461h1v14h-1zM351 461h1v14h-1zM353 461h2v14h-2zM379 461h2v14h-2zM391 461h4v14h-4zM403 461h1v14h-1zM405 461h2v14h-2zM408 461h1v14h-1zM427 461h1v14h-1zM450 461h3v14h-3zM466 461h1v14h-1zM476 461h1v14h-1zM479 461h3v14h-3zM522 461h1v14h-1zM540 461h3v14h-3zM544 461h2v14h-2zM585 461h2v14h-2zM589 461h1v14h-1zM617 461h1v14h-1zM620 461h1v14h-1zM627 461h2v14h-2zM641 461h1v14h-1zM712 461h3v14h-3zM838 461h1v14h-1zM859 461h2v14h-2zM870 461h2v14h-2zM873 461h4v14h-4zM881 461h1v14h-1zM890 461h3v14h-3zM897 461h3v14h-3zM915 461h1v14h-1zM924 461h3v14h-3zM929 461h1v14h-1zM935 461h2v14h-2z" fill="#868686"/><path d="M285 416h1v14h-1zM480 416h1v14h-1zM724 416h1v14h-1zM840 416h1v14h-1zM877 416h1v14h-1zM164 431h2v14h-2zM320 431h1v14h-1zM351 431h2v14h-2zM365 431h2v14h-2zM387 431h2v14h-2zM391 431h3v14h-3zM403 431h2v14h-2zM407 431h1v14h-1zM411 431h1v14h-1zM437 431h1v14h-1zM445 431h2v14h-2zM460 431h1v14h-1zM480 431h2v14h-2zM487 431h3v14h-3zM491 431h5v14h-5zM580 431h1v14h-1zM639 431h1v14h-1zM744 431h1v14h-1zM836 431h4v14h-4zM868 431h2v14h-2zM901 431h4v14h-4zM914 431h1v14h-1zM927 431h2v14h-2zM947 431h2v14h-2zM317 446h1v14h-1zM328 446h2v14h-2zM353 446h2v14h-2zM446 446h4v14h-4zM520 446h3v14h-3zM787 446h1v14h-1zM868 446h2v14h-2zM917 446h3v14h-3zM945 446h1v14h-1zM192 461h1v14h-1zM292 461h1v14h-1zM306 461h2v14h-2zM365 461h2v14h-2zM498 461h1v14h-1zM548 461h2v14h-2zM630 461h2v14h-2zM807 461h2v14h-2zM872 461h1v14h-1zM895 461h2v14h-2zM900 461h1v14h-1zM904 461h2v14h-2z" fill="#c8c8c8"/></g>
<path d="M159.5 69.5L162.5 72.5L159.5 75.5M167.5 69.5L170.5 72.5L167.5 75.5M175.5 69.5L178.5 72.5L175.5 75.5M183.5 69.5L186.5 72.5L183.5 75.5M191.5 69.5L194.5 72.5L191.5 75.5M199.5 69.5L202.5 72.5L199.5 75.5M207.5 69.5L210.5 72.5L207.5 75.5M215.5 69.5L218.5 72.5L215.5 75.5M223.5 69.5L226.5 72.5L223.5 75.5M231.5 69.5L234.5 72.5L231.5 75.5M239.5 69.5L242.5 72.5L239.5 75.5M247.5 69.5L250.5 72.5L247.5 75.5M255.5 69.5L258.5 72.5L255.5 75.5M263.5 69.5L266.5 72.5L263.5 75.5M271.5 69.5L274.5 72.5L271.5 75.5M279.5 69.5L282.5 72.5L279.5 75.5M287.5 69.5L290.5 72.5L287.5 75.5M295.5 69.5L298.5 72.5L295.5 75.5M303.5 69.5L306.5 72.5L303.5 75.5M311.5 69.5L314.5 72.5L311.5 75.5M319.5 69.5L322.5 72.5L319.5 75.5M327.5 69.5L330.5 72.5L327.5 75.5M335.5 69.5L338.5 72.5L335.5 75.5M343.5 69.5L346.5 72.5L343.5 75.5M351.5 69.5L354.5 72.5L351.5 75.5M359.5 69.5L362.5 72.5L359.5 75.5M367.5 69.5L370.5 72.5L367.5 75.5M375.5 69.5L378.5 72.5L375.5 75.5M383.5 69.5L386.5 72.5L383.5 75.5M391.5 69.5L394.5 72.5L391.5 75.5M399.5 69.5L402.5 72.5L399.5 75.5M407.5 69.5L410.5 72.5L407.5 75.5M415.5 69.5L418.5 72.5L415.5 75.5M423.5 69.5L426.5 72.5L423.5 75.5M431.5 69.5L434.5 72.5L431.5 75.5M439.5 69.5L442.5 72.5L439.5 75.5M447.5 69.5L450.5 72.5L447.5 75.5M455.5 69.5L458.5 72.5L455.5 75.5M463.5 69.5L466.5 72.5L463.5 75.5M471.5 69.5L474.5 72.5L471.5 75.5M479.5 69.5L482.5 72.5L479.5 75.5M487.5 69.5L490.5 72.5L487.5 75.5M495.5 69.5L498.5 72.5L495.5 75.5M503.5 69.5L506.5 72.5L503.5 75.5M511.5 69.5L514.5 72.5L511.5 75.5M519.5 69.5L522.5 72.5L519.5 75.5M527.5 69.5L530.5 72.5L527.5 75.5M535.5 69.5L538.5 72.5L535.5 75.5M543.5 69.5L546.5 72.5L543.5 75.5M551.5 69.5L554.5 72.5L551.5 75.5M559.5 69.5L562.5 72.5L559.5 75.5M567.5 69.5L570.5 72.5L567.5 75.5M575.5 69.5L578.5 72.5L575.5 75.5M583.5 69.5L586.5 72.5L583.5 75.5M591.5 69.5L594.5 72.5L591.5 75.5M599.5 69.5L602.5 72.5L599.5 75.5M607.5 69.5L610.5 72.5L607.5 75.5M615.5 69.5L618.5 72.5L615.5 75.5M623.5 69.5L626.5 72.5L623.5 75.5M631.5 69.5L634.5 72.5L631.5 75.5M639.5 69.5L642.5 72.5L639.5 75.5M647.5 69.5L650.5 72.5L647.5 75.5M655.5 69.5L658.5 72.5L655.5 75.5M663.5 69.5L666.5 72.5L663.5 75.5M671.5 69.5L674.5 72.5L671.5 75.5M679.5 69.5L682.5 72.5L679.5 75.5M687.5 69.5L690.5 72.5L687.5 75.5M695.5 69.5L698.5 72.5L695.5 75.5M703.5 69.5L706.5 72.5L703.5 75.5M711.5 69.5L714.5 72.5L711.5 75.5M719.5 69.5L722.5 72.5L719.5 75.5M727.5 69.5L730.5 72.5L727.5 75.5M735.5 69.5L738.5 72.5L735.5 75.5M743.5 69.5L746.5 72.5L743.5 75.5M751.5 69.5L754.5 72.5L751.5 75.5M759.5 69.5L762.5 72.5L759.5 75.5M767.5 69.5L770.5 72.5L767.5 75.5M775.5 69.5L778.5 72.5L775.5 75.5M783.5 69.5L786.5 72.5L783.5 75.5M791.5 69.5L794.5 72.5L791.5 75.5M799.5 69.5L802.5 72.5L799.5 75.5M807.5 69.5L810.5 72.5L807.5 75.5M815.5 69.5L818.5 72.5L815.5 75.5M823.5 69.5L826.5 72.5L823.5 75.5M831.5 69.5L834.5 72.5L831.5 75.5M839.5 69.5L842.5 72.5L839.5 75.5M847.5 69.5L850.5 72.5L847.5 75.5M855.5 69.5L858.5 72.5L855.5 75.5M863.5 69.5L866.5 72.5L863.5 75.5M871.5 69.5L874.5 72.5L871.5 75.5M879.5 69.5L882.5 72.5L879.5 75.5M887.5 69.5L890.5 72.5L887.5 75.5M895.5 69.5L898.5 72.5L895.5 75.5M903.5 69.5L906.5 72.5L903.5 75.5M911.5 69.5L914.5 72.5L911.5 75.5M919.5 69.5L922.5 72.5L919.5 75.5M927.5 69.5L930.5 72.5L927.5 75.5M935.5 69.5L938.5 72.5L935.5 75.5M943.5 69.5L946.5 72.5L943.5 75.5M159.5 85.5L162.5 88.5L159.5 91.5M167.5 85.5L170.5 88.5L167.5 91.5M175.5 85.5L178.5 88.5L175.5 91.5M183.5 85.5L186.5 88.5L183.5 91.5M191.5 85.5L194.5 88.5L191.5 91.5M199.5 85.5L202.5 88.5L199.5 91.5M207.5 85.5L210.5 88.5L207.5 91.5M215.5 85.5L218.5 88.5L215.5 91.5M223.5 85.5L226.5 88.5L223.5 91.5M231.5 85.5L234.5 88.5L231.5 91.5M239.5 85.5L242.5 88.5L239.5 91.5M247.5 85.5L250.5 88.5L247.5 91.5M255.5 85.5L258.5 88.5L255.5 91.5M263.5 85.5L266.5 88.5L263.5 91.5M271.5 85.5L274.5 88.5L271.5 91.5M279.5 85.5L282.5 88.5L279.5 91.5M287.5 85.5L290.5 88.5L287.5 91.5M295.5 85.5L298.5 88.5L295.5 91.5M303.5 85.5L306.5 88.5L303.5 91.5M311.5 85.5L314.5 88.5L311.5 91.5M319.5 85.5L322.5 88.5L319.5 91.5M327.5 85.5L330.5 88.5L327.5 91.5M335.5 85.5L338.5 88.5L335.5 91.5M343.5 85.5L346.5 88.5L343.5 91.5M159.5 101.5L162.5 104.5L159.5 107.5M167.5 101.5L170.5 104.5L167.5 107.5M175.5 101.5L178.5 104.5L175.5 107.5M183.5 101.5L186.5 104.5L183.5 107.5M191.5 101.5L194.5 104.5L191.5 107.5M199.5 101.5L202.5 104.5L199.5 107.5M207.5 101.5L210.5 104.5L207.5 107.5M215.5 101.5L218.5 104.5L215.5 107.5M223.5 101.5L226.5 104.5L223.5 107.5M231.5 101.5L234.5 104.5L231.5 107.5M239.5 101.5L242.5 104.5L239.5 107.5M247.5 101.5L250.5 104.5L247.5 107.5M255.5 101.5L258.5 104.5L255.5 107.5M263.5 101.5L266.5 104.5L263.5 107.5M271.5 101.5L274.5 104.5L271.5 107.5M279.5 101.5L282.5 104.5L279.5 107.5M287.5 101.5L290.5 104.5L287.5 107.5M295.5 101.5L298.5 104.5L295.5 107.5M303.5 101.5L306.5 104.5L303.5 107.5M311.5 101.5L314.5 104.5L311.5 107.5M319.5 101.5L322.5 104.5L319.5 107.5M327.5 101.5L330.5 104.5L327.5 107.5M335.5 101.5L338.5 104.5L335.5 107.5M343.5 101.5L346.5 104.5L343.5 107.5M351.5 101.5L354.5 104.5L351.5 107.5M359.5 101.5L362.5 104.5L359.5 107.5M367.5 101.5L370.5 104.5L367.5 107.5M375.5 101.5L378.5 104.5L375.5 107.5M383.5 101.5L386.5 104.5L383.5 107.5M391.5 101.5L394.5 104.5L391.5 107.5M399.5 101.5L402.5 104.5L399.5 107.5M407.5 101.5L410.5 104.5L407.5 107.5M415.5 101.5L418.5 104.5L415.5 107.5M423.5 101.5L426.5 104.5L423.5 107.5M431.5 101.5L434.5 104.5L431.5 107.5M439.5 101.5L442.5 104.5L439.5 107.5M447.5 101.5L450.5 104.5L447.5 107.5M455.5 101.5L458.5 104.5L455.5 107.5M463.5 101.5L466.5 104.5L463.5 107.5M471.5 101.5L474.5 104.5L471.5 107.5M479.5 101.5L482.5 104.5L479.5 107.5M487.5 101.5L490.5 104.5L487.5 107.5M495.5 101.5L498.5 104.5L495.5 107.5M503.5 101.5L506.5 104.5L503.5 107.5M511.5 101.5L514.5 104.5L511.5 107.5M519.5 101.5L522.5 104.5L519.5 107.5M527.5 101.5L530.5 104.5L527.5 107.5M535.5 101.5L538.5 104.5L535.5 107.5M543.5 101.5L546.5 104.5L543.5 107.5M551.5 101.5L554.5 104.5L551.5 107.5M559.5 101.5L562.5 104.5L559.5 107.5M567.5 101.5L570.5 104.5L567.5 107.5M575.5 101.5L578.5 104.5L575.5 107.5M583.5 101.5L586.5 104.5L583.5 107.5M591.5 101.5L594.5 104.5L591.5 107.5M599.5 101.5L602.5 104.5L599.5 107.5M607.5 101.5L610.5 104.5L607.5 107.5M615.5 101.5L618.5 104.5L615.5 107.5M623.5 101.5L626.5 104.5L623.5 107.5M631.5 101.5L634.5 104.5L631.5 107.5M639.5 101.5L642.5 104.5L639.5 107.5M647.5 101.5L650.5 104.5L647.5 107.5M655.5 101.5L658.5 104.5L655.5 107.5M663.5 101.5L666.5 104.5L663.5 107.5M671.5 101.5L674.5 104.5L671.5 107.5M679.5 101.5L682.5 104.5L679.5 107.5M687.5 101.5L690.5 104.5L687.5 107.5M695.5 101.5L698.5 104.5L695.5 107.5M703.5 101.5L706.5 104.5L703.5 107.5M711.5 101.5L714.5 104.5L711.5 107.5M719.5 101.5L722.5 104.5L719.5 107.5M727.5 101.5L730.5 104.5L727.5 107.5M735.5 101.5L738.5 104.5L735.5 107.5M743.5 101.5L746.5 104.5L743.5 107.5M751.5 101.5L754.5 104.5L751.5 107.5M759.5 101.5L762.5 104.5L759.5 107.5M767.5 101.5L770.5 104.5L767.5 107.5M775.5 101.5L778.5 104.5L775.5 107.5M783.5 101.5L786.5 104.5L783.5 107.5M791.5 101.5L794.5 104.5L791.5 107.5M799.5 101.5L802.5 104.5L799.5 107.5M807.5 101.5L810.5 104.5L807.5 107.5M815.5 101.5L818.5 104.5L815.5 107.5M823.5 101.5L826.5 104.5L823.5 107.5M831.5 101.5L834.5 104.5L831.5 107.5M839.5 101.5L842.5 104.5L839.5 107.5M847.5 101.5L850.5 104.5L847.5 107.5M855.5 101.5L858.5 104.5L855.5 107.5M863.5 101.5L866.5 104.5L863.5 107.5M871.5 101.5L874.5 104.5L871.5 107.5M879.5 101.5L882.5 104.5L879.5 107.5M887.5 101.5L890.5 104.5L887.5 107.5M895.5 101.5L898.5 104.5L895.5 107.5M903.5 101.5L906.5 104.5L903.5 107.5M911.5 101.5L914.5 104.5L911.5 107.5M919.5 101.5L922.5 104.5L919.5 107.5M927.5 101.5L930.5 104.5L927.5 107.5M935.5 101.5L938.5 104.5L935.5 107.5M943.5 101.5L946.5 104.5L943.5 107.5" stroke="#006400" stroke-width="1" fill="none"/>
<text x="56.87" y="13" text-anchor="start" fill="#000" stroke="#000" font-size="13.6" textLength="95.23" lengthAdjust="spacingAndGlyphs">Window Position</text>
<text x="119.52" y="30" text-anchor="start" fill="#000" stroke="#000" font-size="13.6" textLength="32.23" lengthAdjust="spacingAndGlyphs">Scale</text>
<text x="115.37" y="47" text-anchor="start" fill="#000" stroke="#000" font-size="13.6" textLength="36.82" lengthAdjust="spacingAndGlyphs">chr17:</text>
<text x="37.91" y="77" text-anchor="start" fill="#006400" stroke="#006400" font-size="13.6" textLength="113.67" lengthAdjust="spacingAndGlyphs">ENSG00000248954</text>
<text x="37.91" y="93" text-anchor="start" fill="#006400" stroke="#006400" font-size="13.6" textLength="113.67" lengthAdjust="spacingAndGlyphs">ENSG00000248954</text>
<text x="37.91" y="109" text-anchor="start" fill="#006400" stroke="#006400" font-size="13.6" textLength="113.67" lengthAdjust="spacingAndGlyphs">ENSG00000248954</text>
<text x="59.85" y="140" text-anchor="start" fill="#0c0c78" stroke="#0c0c78" font-size="13.6" textLength="92.23" lengthAdjust="spacingAndGlyphs">RefSeq Curated</text>
<text x="87.32" y="171" text-anchor="start" fill="#000" stroke="#000" font-size="13.6" textLength="63.64" lengthAdjust="spacingAndGlyphs">Sequences</text>
<text x="118.32" y="187" text-anchor="start" fill="#000" stroke="#000" font-size="13.6" textLength="32.59" lengthAdjust="spacingAndGlyphs">SNPs</text>
<text x="73.97" y="218" text-anchor="start" fill="#006400" stroke="#006400" font-size="13.6" textLength="77.06" lengthAdjust="spacingAndGlyphs">OMIM Genes</text>
<text x="26.29" y="249" text-anchor="start" fill="#000" stroke="#000" font-size="13.6" textLength="125.60" lengthAdjust="spacingAndGlyphs">Common dbSNP(155)</text>
<text x="62.14" y="284" text-anchor="start" fill="#000" stroke="#000" font-size="13.6" textLength="89.37" lengthAdjust="spacingAndGlyphs">RP11-304F15.4</text>
<text x="116.33" y="347" text-anchor="start" fill="#3c3c8c" stroke="#3c3c8c" font-size="13.6" textLength="35.44" lengthAdjust="spacingAndGlyphs">4.88 <tspan dy="-1.5">_</tspan></text>
<text x="119.56" y="397" text-anchor="start" fill="#8c3c3c" stroke="#8c3c3c" font-size="13.6" textLength="32.41" lengthAdjust="spacingAndGlyphs">-4.5 <tspan dy="-1.5">_</tspan></text>
<text x="108.48" y="428" text-anchor="start" fill="#0c0c78" stroke="#0c0c78" font-size="13.6" textLength="42.58" lengthAdjust="spacingAndGlyphs">Rhesus</text>
<text x="112.83" y="443" text-anchor="start" fill="#006400" stroke="#006400" font-size="13.6" textLength="38.75" lengthAdjust="spacingAndGlyphs">Mouse</text>
<text x="129.09" y="458" text-anchor="start" fill="#0c0c78" stroke="#0c0c78" font-size="13.6" textLength="22.65" lengthAdjust="spacingAndGlyphs">Dog</text>
<text x="101.05" y="473" text-anchor="start" fill="#006400" stroke="#006400" font-size="13.6" textLength="49.88" lengthAdjust="spacingAndGlyphs">Elephant</text>
<text x="105.49" y="488" text-anchor="start" fill="#006400" stroke="#006400" font-size="13.6" textLength="46.51" lengthAdjust="spacingAndGlyphs">Chicken</text>
<text x="84.38" y="503" text-anchor="start" fill="#0c0c78" stroke="#0c0c78" font-size="13.6" textLength="66.69" lengthAdjust="spacingAndGlyphs">X_tropicalis</text>
<text x="101.34" y="518" text-anchor="start" fill="#006400" stroke="#006400" font-size="13.6" textLength="50.64" lengthAdjust="spacingAndGlyphs">Zebrafish</text>
<text x="68.08" y="549" text-anchor="start" fill="#000" stroke="#000" font-size="13.6" textLength="83.18" lengthAdjust="spacingAndGlyphs">RepeatMasker</text>
<text x="12.74" y="316" text-anchor="start" fill="#000" stroke="#000" font-size="13.6" textLength="104.69" lengthAdjust="spacingAndGlyphs">Layered H3K27Ac</text>
<text x="13.38" y="372" text-anchor="start" fill="#3c3c8c" stroke="#3c3c8c" font-size="13.6" textLength="85.96" lengthAdjust="spacingAndGlyphs">100 Vert. Cons</text>
<text y="12" fill="#000" stroke="#000" font-size="13.6"><tspan x="333.21" textLength="195.43" lengthAdjust="spacingAndGlyphs">Human Feb. 2009 (GRCh37/hg19)</tspan> <tspan x="541.48" textLength="229.13" lengthAdjust="spacingAndGlyphs">chr17:47,975,174-47,976,284 (1,111 bp)</tspan></text>
<text x="311.21" y="29" text-anchor="start" fill="#000" stroke="#000" font-size="13.6" textLength="59.10" lengthAdjust="spacingAndGlyphs">500 bases</text>
<text x="740.39" y="29" text-anchor="start" fill="#000" stroke="#000" font-size="13.6" textLength="27.93" lengthAdjust="spacingAndGlyphs">hg19</text>
<text x="323.37" y="47" text-anchor="start" fill="#000" stroke="#000" font-size="13.6" textLength="62.94" lengthAdjust="spacingAndGlyphs">47,975,500</text>
<text x="680.37" y="47" text-anchor="start" fill="#000" stroke="#000" font-size="13.6" textLength="62.94" lengthAdjust="spacingAndGlyphs">47,976,000</text>
<text x="432.53" y="63" text-anchor="start" fill="#000" stroke="#000" font-size="13.6" textLength="239.03" lengthAdjust="spacingAndGlyphs">GENCODE V49lift37 (3 items filtered out)</text>
<text x="491.47" y="125" text-anchor="start" fill="#000" stroke="#000" font-size="10.3" textLength="122.22" lengthAdjust="spacingAndGlyphs">RefSeq genes from NCBI</text>
<text x="445.39" y="156" text-anchor="start" fill="#000" stroke="#000" font-size="10.3" textLength="213.71" lengthAdjust="spacingAndGlyphs">Publications: Sequences in Scientific Articles</text>
<text x="368.6" y="204" text-anchor="start" fill="#006400" stroke="#006400" font-size="13.6" textLength="368.72" lengthAdjust="spacingAndGlyphs">OMIM Gene Phenotypes - Dark Green Can Be Disease-causing</text>
<text x="436.53" y="234" text-anchor="start" fill="#000" stroke="#000" font-size="10.3" textLength="230.95" lengthAdjust="spacingAndGlyphs">Short Genetic Variants from dbSNP release 155</text>
<text y="266" fill="#000" stroke="#000" font-size="13.6"><tspan x="266.33" textLength="176.70" lengthAdjust="spacingAndGlyphs">Gene Expression in 54 tissues</tspan> <tspan x="448.85" textLength="172.80" lengthAdjust="spacingAndGlyphs">from GTEx RNA-seq of 17382</tspan> <tspan x="626.55" textLength="211.12" lengthAdjust="spacingAndGlyphs">samples, 948 donors (V8, Aug 2019)</tspan></text>
<text y="302" fill="#000" stroke="#000" font-size="13.6"><tspan x="281.11" textLength="167.87" lengthAdjust="spacingAndGlyphs">H3K27Ac Mark (Often Found</tspan> <tspan x="453.55" textLength="131.64" lengthAdjust="spacingAndGlyphs">Near Active Regulatory</tspan> <tspan x="591.55" textLength="141.36" lengthAdjust="spacingAndGlyphs">Elements) on 7 cell lines</tspan> <tspan x="738.82" textLength="83.84" lengthAdjust="spacingAndGlyphs">from ENCODE</tspan></text>
<text x="405.87" y="348" text-anchor="start" fill="#3c3c8c" stroke="#3c3c8c" font-size="13.6" textLength="292.60" lengthAdjust="spacingAndGlyphs">100 vertebrates Basewise Conservation by PhyloP</text>
<text x="444.88" y="414" text-anchor="start" fill="#0c0c78" stroke="#0c0c78" font-size="13.6" textLength="213.78" lengthAdjust="spacingAndGlyphs">Multiz Alignments of 100 Vertebrates</text>
<text x="441.28" y="534" text-anchor="start" fill="#000" stroke="#000" font-size="13.6" textLength="221.99" lengthAdjust="spacingAndGlyphs">Repeating Elements by RepeatMasker</text></svg>
</body></html>
